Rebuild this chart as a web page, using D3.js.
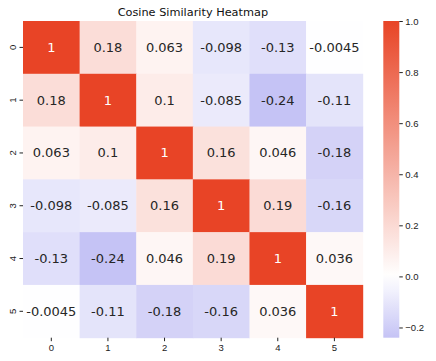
<!DOCTYPE html>
<html>
<head>
<meta charset="utf-8">
<script src="https://cdn.jsdelivr.net/npm/d3@7"></script>
<style>
  body { margin: 0; background: #fff; }
  svg { font-family: "DejaVu Sans", sans-serif; }
  .axis .domain { display: none; }
  .axis line { stroke: #222; }
  .axis text { fill: #222; font-size: 9.5px; }
</style>
</head>
<body>
<div id="chart"></div>
<script>
const labels = ['0', '1', '2', '3', '4', '5'];
const row0 = [1, 0.18, 0.063, -0.098, -0.13, -0.0045];
const row1 = [0.18, 1, 0.1, -0.085, -0.24, -0.11];
const row2 = [0.063, 0.1, 1, 0.16, 0.046, -0.18];
const row3 = [-0.098, -0.085, 0.16, 1, 0.19, -0.16];
const row4 = [-0.13, -0.24, 0.046, 0.19, 1, 0.036];
const row5 = [-0.0045, -0.11, -0.18, -0.16, 0.036, 1];
const matrix = [row0, row1, row2, row3, row4, row5];
const cbarTicks = [-0.2, 0, 0.2, 0.4, 0.6, 0.8, 1.0];

const w = 436;
const h = 361;
const mLeft = 23, mRight = 362.7, mTop = 21, mBottom = 337.7;

const cells = [];
matrix.forEach((row, i) => row.forEach((v, j) => cells.push({ row: labels[i], col: labels[j], value: v })));

const vmin = d3.min(cells, d => d.value);
const vmax = d3.max(cells, d => d.value);

// colormap centred at 0 (seaborn center=0 style)
const color = d3.scaleLinear()
  .domain([-1, 0, 1])
  .range(['#0e05d5', '#ffffff', '#e84426'])
  .clamp(true);

const svg = d3.select('#chart').append('svg')
  .attr('width', w)
  .attr('height', h);

const xScale = d3.scaleBand().domain(labels).range([mLeft, mRight]);
const yScale = d3.scaleBand().domain(labels).range([mTop, mBottom]);

svg.append('g').selectAll('rect')
  .data(cells)
  .enter()
  .append('rect')
  .attr('x', d => xScale(d.col))
  .attr('y', d => yScale(d.row))
  .attr('width', xScale.bandwidth() + 0.5)
  .attr('height', yScale.bandwidth() + 0.5)
  .attr('fill', d => color(d.value));

const fmt = v => {
  if (v === 1) return '1';
  return d3.format('.2')(v).replace('\u2212', '-');
};

svg.append('g').selectAll('text')
  .data(cells)
  .enter()
  .append('text')
  .attr('x', d => xScale(d.col) + xScale.bandwidth() / 2)
  .attr('y', d => yScale(d.row) + yScale.bandwidth() / 2)
  .attr('text-anchor', 'middle')
  .attr('dominant-baseline', 'central')
  .style('font-size', '13px')
  .attr('fill', d => {
    const c = d3.rgb(color(d.value));
    const lum = 0.2126 * c.r + 0.7152 * c.g + 0.0722 * c.b;
    return lum < 130 ? '#fff' : '#262626';
  })
  .text(d => fmt(d.value));

// axes
const xAxis = d3.axisBottom(xScale).tickSize(3.5).tickPadding(3);
svg.append('g')
  .attr('class', 'axis')
  .attr('transform', 'translate(0,' + mBottom + ')')
  .call(xAxis);

const yAxis = d3.axisLeft(yScale).tickSize(3.5).tickPadding(3);
const yg = svg.append('g')
  .attr('class', 'axis')
  .attr('transform', 'translate(' + mLeft + ',0)')
  .call(yAxis);
// rotated tick labels, as matplotlib draws them on the y axis of a heatmap
yg.selectAll('.tick text')
  .attr('x', 0)
  .attr('y', -7)
  .attr('dy', null)
  .attr('transform', 'rotate(-90)')
  .attr('text-anchor', 'middle');

// title
svg.append('text')
  .attr('x', (mLeft + mRight) / 2)
  .attr('y', 15.5)
  .attr('text-anchor', 'middle')
  .style('font-size', '11.3px')
  .attr('fill', '#111')
  .text('Cosine Similarity Heatmap');

// colorbar
const cbX = 383.3, cbW = 16;
const cbScale = d3.scaleLinear().domain([vmin, vmax]).range([mBottom, mTop]);

const defs = svg.append('defs');
const grad = defs.append('linearGradient')
  .attr('id', 'cbar-grad')
  .attr('x1', 0).attr('y1', 1).attr('x2', 0).attr('y2', 0);
d3.range(0, 1.0001, 0.05).forEach(t => {
  grad.append('stop')
    .attr('offset', t)
    .attr('stop-color', color(vmin + t * (vmax - vmin)));
});

svg.append('rect')
  .attr('x', cbX)
  .attr('y', mTop)
  .attr('width', cbW)
  .attr('height', mBottom - mTop)
  .attr('fill', 'url(#cbar-grad)');

const cbAxis = d3.axisRight(cbScale)
  .tickValues(cbarTicks)
  .tickFormat(d3.format('.1f'))
  .tickSize(3.5)
  .tickPadding(2.5);
svg.append('g')
  .attr('class', 'axis')
  .attr('transform', 'translate(' + (cbX + cbW) + ',0)')
  .call(cbAxis);
</script>
</body>
</html>
